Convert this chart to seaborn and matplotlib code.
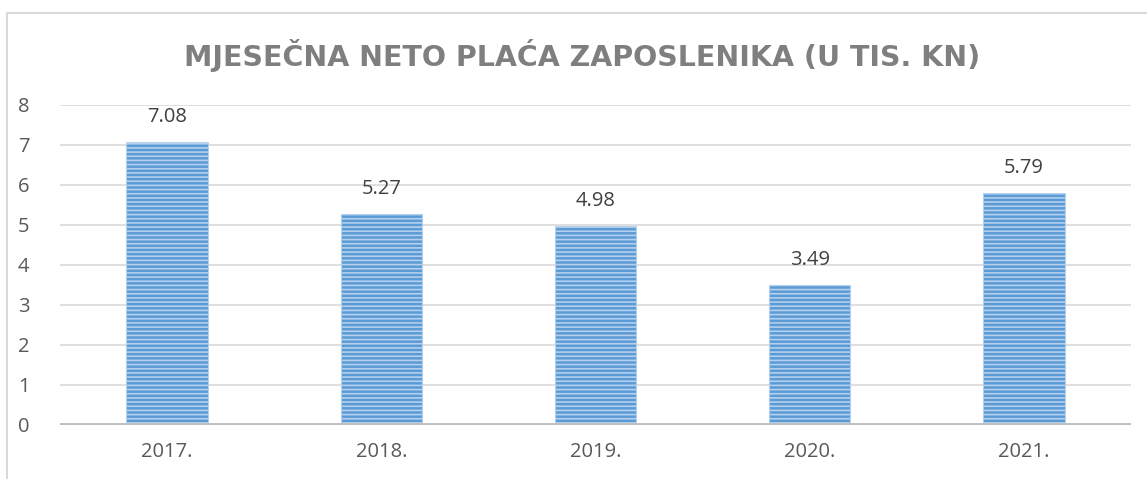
import matplotlib
matplotlib.use("Agg")
import matplotlib.pyplot as plt
import seaborn as sns
import pandas as pd
from matplotlib.lines import Line2D

# podaci
godine = ["2017.", "2018.", "2019.", "2020.", "2021."]
placa = [7.08, 5.27, 4.98, 3.49, 5.79]
naslov = "MJESEČNA NETO PLAĆA ZAPOSLENIKA (U TIS. KN)"

df = pd.DataFrame({"godina": godine, "placa": placa})

sns.set_theme(style="white")
plt.rcParams["font.family"] = ["Open Sans", "DejaVu Sans"]
plt.rcParams["hatch.linewidth"] = 1.2

fig = plt.figure(figsize=(11.47, 4.79), dpi=100)
ax = fig.add_axes([60 / 1147, 1 - 425 / 479, (1131 - 60) / 1147, 320 / 479])

sns.barplot(data=df, x="godina", y="placa", color="#5b9bd5", saturation=1,
            width=0.38, ax=ax, zorder=3)
for p in ax.patches:
    p.set_hatch("----")
    p.set_edgecolor("#b4d0ee")
    p.set_linewidth(0.8)

ax.bar_label(ax.containers[0], fmt="%.2f", padding=11, fontsize=14.5,
             color="#404040")

ax.set_ylim(0, 8)
ax.set_yticks(range(0, 9))
ax.yaxis.grid(True, color="#d9d9d9", linewidth=1.2, zorder=0)
ax.axhline(0, color="#bfbfbf", linewidth=2.8, zorder=4)
for s in ax.spines.values():
    s.set_visible(False)
ax.set_xlabel("")
ax.set_ylabel("")
ax.tick_params(axis="both", length=0, labelsize=14.5, labelcolor="#595959")
ax.tick_params(axis="x", pad=12)
ax.tick_params(axis="y", pad=22)

fig.text(582 / 1147, 1 - 55 / 479, naslov, ha="center", va="center",
         fontsize=20.5, fontweight="bold", color="#7f7f7f",
         family=["DejaVu Sans"])

# okvir grafikona
x0 = 7 / 1147
y0 = 1 - 13 / 479
fig.add_artist(Line2D([x0, x0], [0, y0], color="#d9d9d9", linewidth=1.5,
                      transform=fig.transFigure))
fig.add_artist(Line2D([x0, 1], [y0, y0], color="#d9d9d9", linewidth=1.5,
                      transform=fig.transFigure))

fig.savefig("out.png", dpi=100)
